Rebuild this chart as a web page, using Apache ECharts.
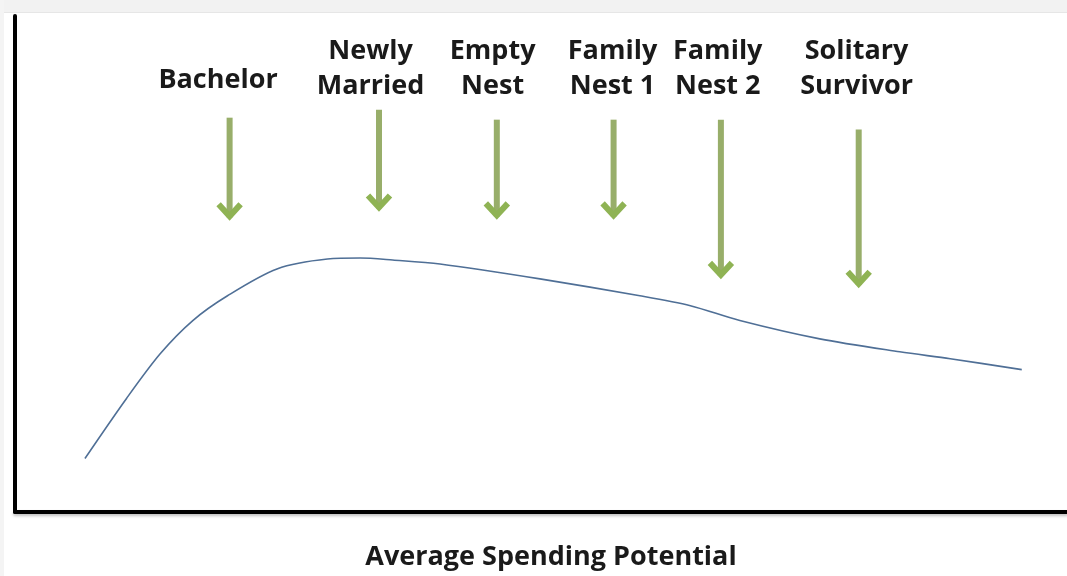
<!DOCTYPE html>
<html>
<head>
<meta charset="utf-8">
<script src="https://cdn.jsdelivr.net/npm/echarts@6/dist/echarts.min.js"></script>
<style>
  html, body { margin: 0; padding: 0; background: #ffffff; }
  #chart { width: 1067px; height: 576px; }
</style>
</head>
<body>
<div id="chart"></div>
<script>
// Spending curve (abstract units, x: life course 0-100, y: spending 0-100)
const curveX = [6.65, 10.6, 13.8, 16.9, 20.2, 24.9, 29.7, 32.8, 35.9, 40.4, 49.9, 59.4, 64.2, 68.9, 76.5, 84.1, 88.9, 95.7];
const curveY = [10.8, 22.9, 31.9, 38.6, 43.6, 49.0, 51.0, 51.2, 50.8, 50.0, 47.0, 43.6, 41.6, 38.6, 34.9, 32.3, 30.9, 28.7];

// Life-cycle stages and their arrows
const stages = ['Bachelor', 'Newly\nMarried', 'Empty\nNest', 'Family\nNest 1', 'Family\nNest 2', 'Solitary\nSurvivor'];
const arrowX = [20.4, 34.6, 45.8, 56.9, 67.1, 80.2];
const arrowTop = [79.5, 81.1, 79.1, 79.1, 79.1, 77.1];
const arrowTip = [58.6, 60.4, 58.8, 58.8, 46.8, 45.0];
const labelX = [19.3, 33.8, 45.4, 56.8, 66.8, 80.0];
const labelY = [87.1, 89.3, 89.3, 89.3, 89.3, 89.3];

const xTitle = 'Average Spending Potential';

const curveData = curveX.map((x, i) => [x, curveY[i]]);
const arrowData = stages.map((s, i) => [arrowX[i], arrowTop[i], arrowTip[i], labelX[i], labelY[i]]);

const FONT = 'Open Sans';
const GREEN = '#8fb354';

const chart = echarts.init(document.getElementById('chart'), null, { renderer: 'canvas' });
chart.setOption({
  backgroundColor: '#ffffff',
  animation: false,
  graphic: [
    { type: 'rect', shape: { x: 0, y: 0, width: 1067, height: 12 }, style: { fill: '#f2f2f2' }, z: -10 },
    { type: 'rect', shape: { x: 0, y: 12, width: 1067, height: 1 }, style: { fill: '#e6e6e6' }, z: -10 },
    { type: 'rect', shape: { x: 0, y: 0, width: 4, height: 576 }, style: { fill: '#f4f4f4' }, z: -10 }
  ],
  grid: { left: 15, right: 0, top: 16, bottom: 62, containLabel: false },
  xAxis: {
    type: 'value', min: 0, max: 100,
    axisLine: { show: true, onZero: false, lineStyle: { color: '#000', width: 4, shadowColor: 'rgba(0,0,0,0.25)', shadowBlur: 3, shadowOffsetY: 2 } },
    axisTick: { show: false }, axisLabel: { show: false }, splitLine: { show: false },
    name: xTitle, nameLocation: 'middle', nameGap: 32,
    nameTextStyle: { fontFamily: FONT, fontWeight: 'bold', fontSize: 27, color: '#1a1a1a', padding: [0, 0, 0, 20] }
  },
  yAxis: {
    type: 'value', min: 0, max: 100,
    axisLine: { show: true, onZero: false, lineStyle: { color: '#000', width: 4 } },
    axisTick: { show: false }, axisLabel: { show: false }, splitLine: { show: false }
  },
  series: [
    {
      type: 'line', data: curveData, smooth: 0.3, showSymbol: false, symbol: 'none',
      lineStyle: { color: '#4f6f96', width: 1.6 }, clip: false, z: 3
    },
    {
      type: 'custom', data: arrowData, clip: false, z: 4,
      encode: { x: [0, 3], y: [1, 2, 4] },
      renderItem: function (params, api) {
        const i = params.dataIndex;
        const top = api.coord([api.value(0), api.value(1)]);
        const tip = api.coord([api.value(0), api.value(2)]);
        const lab = api.coord([api.value(3), api.value(4)]);
        const x = top[0];
        return {
          type: 'group',
          children: [
            { type: 'line', shape: { x1: x, y1: top[1], x2: x, y2: tip[1] - 4 },
              style: { stroke: '#98ae6a', lineWidth: 6 } },
            { type: 'polyline', shape: { points: [[x - 11, tip[1] - 17], [x, tip[1] - 5], [x + 11, tip[1] - 17]] },
              style: { stroke: GREEN, lineWidth: 6, fill: null, lineJoin: 'miter', lineCap: 'butt' } },
            { type: 'text', x: lab[0], y: lab[1],
              style: { text: stages[i], fontFamily: FONT, fontWeight: 'bold', fontSize: 27, lineHeight: 35,
                       fill: '#1a1a1a', align: 'center', verticalAlign: 'middle' } }
          ]
        };
      }
    }
  ]
});
</script>
</body>
</html>
